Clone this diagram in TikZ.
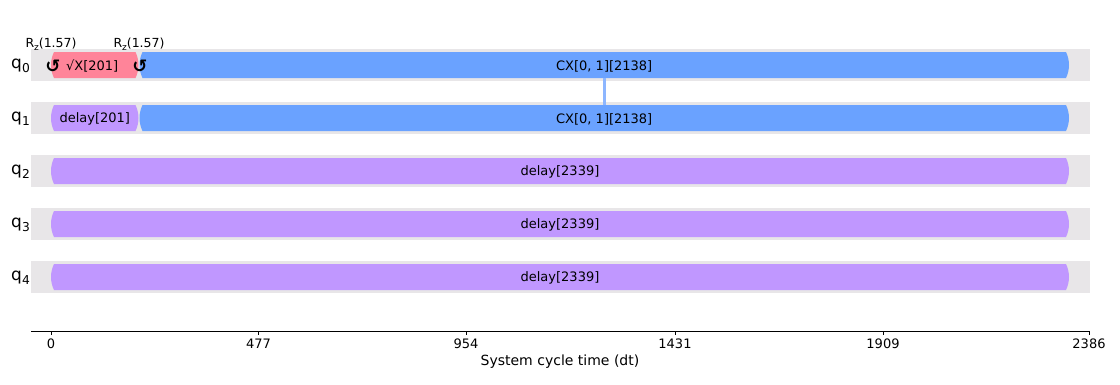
\documentclass[tikz,border=0pt]{standalone}
\usepackage{fontspec}
\setmainfont{DejaVu Sans}
\definecolor{rowgray}{HTML}{E8E6E8}
\definecolor{cxblue}{HTML}{6AA2FF}
\definecolor{dlpurple}{HTML}{C097FF}
\definecolor{sxpink}{HTML}{FF8499}
\definecolor{linkblue}{HTML}{8DB6FF}
\newcommand{\mysub}[1]{\raisebox{-0.25em}{\scalebox{0.72}{#1}}}
\tikzset{
  gatelabel/.style={font=\fontsize{13}{15}\selectfont, inner sep=0pt, text=black},
  qlabel/.style={font=\fontsize{17}{19}\selectfont, inner sep=0pt, anchor=east},
  ticklabel/.style={font=\fontsize{13}{15}\selectfont, inner sep=0pt, anchor=north},
  rzlabel/.style={font=\fontsize{12.5}{14}\selectfont, inner sep=0pt},
  rzsym/.style={font=\bfseries\fontsize{18}{20}\selectfont, inner sep=0pt},
}
% \gatebox{x0}{x1}{yc}{color}{name}{label}
\newcommand{\gatebox}[6]{%
  \fill[#4] ({#1+3},{#3-13}) -- ({#2-3},{#3-13})
     .. controls ({#2-1},{#3-9}) and ({#2},{#3-4}) .. ({#2},{#3})
     .. controls ({#2},{#3+4}) and ({#2-1},{#3+9}) .. ({#2-3},{#3+13})
     -- ({#1+3},{#3+13})
     .. controls ({#1+1},{#3+9}) and ({#1},{#3+4}) .. ({#1},{#3})
     .. controls ({#1},{#3-4}) and ({#1+1},{#3-9}) .. ({#1+3},{#3-13}) -- cycle;
  \node[gatelabel] (#5) at ({(#1+#2)/2},{#3+1}) {#6};%
}
\begin{document}
\begin{tikzpicture}[x=1pt,y=-1pt]
\useasboundingbox (0,0) rectangle (1120,384);
\fill[white] (0,0) rectangle (1120,384);
% rows
\foreach \i/\y in {0/65,1/118,2/171,3/224,4/277}{
  \fill[rowgray] (31,{\y-16}) rectangle (1090,{\y+16});
  \node[qlabel] (q\i) at (30,{\y+1}) {q\mysub{\i}};
}
% gates
\gatebox{51}{138.5}{65}{sxpink}{sx}{\hspace*{-5pt}√X[201]}
\gatebox{139.5}{1069}{65}{cxblue}{cx0}{CX[0, 1][2138]}
\gatebox{51}{138.5}{118}{dlpurple}{d1}{delay[201]}
\gatebox{139.5}{1069}{118}{cxblue}{cx1}{CX[0, 1][2138]}
\gatebox{51}{1069}{171}{dlpurple}{d2}{delay[2339]}
\gatebox{51}{1069}{224}{dlpurple}{d3}{delay[2339]}
\gatebox{51}{1069}{277}{dlpurple}{d4}{delay[2339]}
% link
\coordinate (la) at (604,78);
\coordinate (lb) at (604,105);
\draw[linkblue, line width=3pt] (la) -- (lb);
% rz
\node[rzsym] (rz1) at (53,66) {↺};
\node[rzsym] (rz2) at (140,66) {↺};
\node[rzlabel] (rzl1) at (51,44) {R\mysub{z}(1.57)};
\node[rzlabel] (rzl2) at (139,44) {R\mysub{z}(1.57)};
% axis
\draw[line width=0.8pt] (31,331) -- (1090,331);
\foreach \v/\x in {0/51,477/258.5,954/466,1431/675,1909/883,2386/1089}{
  \draw[line width=0.8pt] (\x,331) -- (\x,335);
  \node[ticklabel] (t\v) at (\x,339) {\v};
}
\node[font=\fontsize{14}{16}\selectfont, inner sep=0pt] (xl) at (560,362) {System cycle time (dt)};
\end{tikzpicture}
\end{document}
